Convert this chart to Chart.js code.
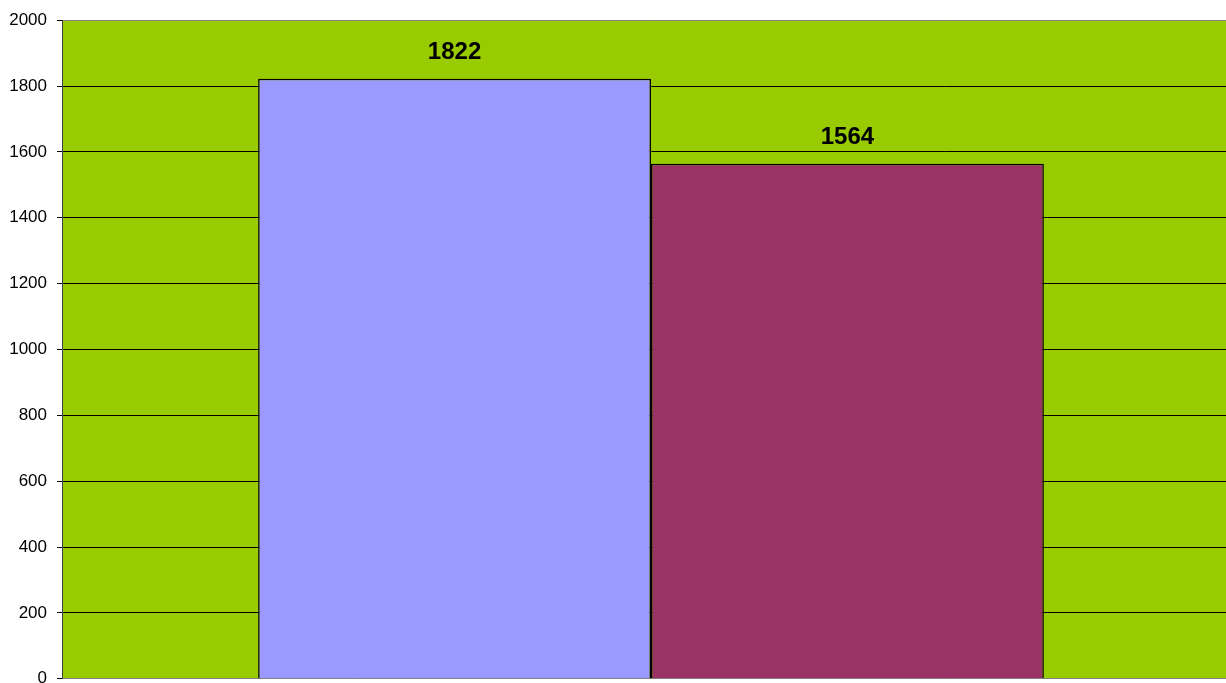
<!DOCTYPE html>
<html>
<head>
<meta charset="utf-8">
<script src="https://cdn.jsdelivr.net/npm/chart.js@4/dist/chart.umd.min.js"></script>
<style>
  html, body { margin: 0; padding: 0; background: #ffffff; overflow: hidden; }
  #wrap { width: 1240px; height: 699px; }
</style>
</head>
<body>
<div id="wrap"><canvas id="chart"></canvas></div>
<script>
const categories = [''];
const seriesA = [1822];
const seriesB = [1564];
const yTicks = [0, 200, 400, 600, 800, 1000, 1200, 1400, 1600, 1800, 2000];

// fond vert de la zone de tracé
const plotBackground = {
    id: 'plotBackground',
    beforeDraw(chart) {
        const { ctx, chartArea } = chart;
        ctx.save();
        ctx.fillStyle = '#99CC00';
        ctx.fillRect(chartArea.left, chartArea.top, chartArea.right - chartArea.left, chartArea.bottom - chartArea.top);
        ctx.restore();
    }
};

// valeurs en gras au-dessus des barres
const valueLabels = {
    id: 'valueLabels',
    afterDatasetsDraw(chart) {
        const { ctx } = chart;
        ctx.save();
        ctx.font = 'bold 24px "Liberation Sans", Arial, sans-serif';
        ctx.fillStyle = '#000000';
        ctx.textAlign = 'center';
        ctx.textBaseline = 'middle';
        chart.data.datasets.forEach((ds, i) => {
            chart.getDatasetMeta(i).data.forEach((bar, j) => {
                ctx.fillText(String(ds.data[j]), bar.x, bar.y - 26);
            });
        });
        ctx.restore();
    }
};

new Chart(document.getElementById('chart'), {
    type: 'bar',
    data: {
        labels: categories,
        datasets: [
            { data: seriesA, backgroundColor: '#9999FF', borderColor: '#000000', borderWidth: 1.5 },
            { data: seriesB, backgroundColor: '#993366', borderColor: '#000000', borderWidth: 1.5 }
        ]
    },
    options: {
        responsive: true,
        maintainAspectRatio: false,
        animation: false,
        categoryPercentage: 0.667,
        barPercentage: 1,
        layout: { padding: { top: 18, bottom: 4, left: 0, right: 0 } },
        plugins: { legend: { display: false }, tooltip: { enabled: false } },
        scales: {
            x: { display: false },
            y: {
                min: 0,
                max: 2000,
                afterBuildTicks(axis) {
                    axis.ticks = yTicks.map(v => ({ value: v }));
                },
                afterFit(axis) { axis.width = 62; },
                grid: {
                    color: ctx => (ctx.tick && (ctx.tick.value === 0 || ctx.tick.value === 2000)) ? '#808080' : '#000000',
                    tickColor: '#000000',
                    tickLength: 5,
                    lineWidth: 1
                },
                border: { color: '#404040', width: 1 },
                ticks: {
                    color: '#000000',
                    padding: 10,
                    callback: v => String(v),
                    font: { family: '"Liberation Sans", Arial, sans-serif', size: 17 }
                }
            }
        }
    },
    plugins: [plotBackground, valueLabels]
});
</script>
</body>
</html>
